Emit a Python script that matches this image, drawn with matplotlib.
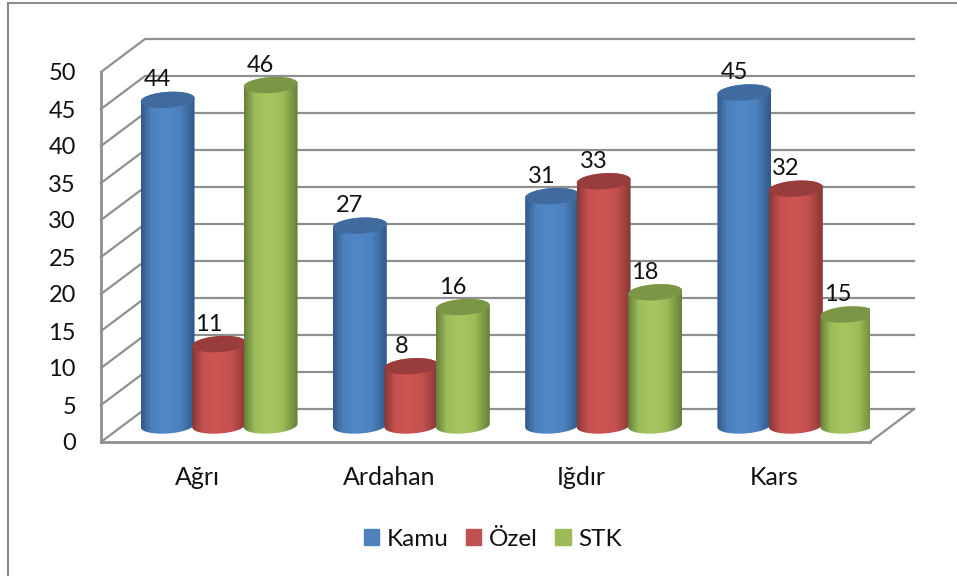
import numpy as np
import matplotlib
matplotlib.use('Agg')
import matplotlib.pyplot as plt
from matplotlib.lines import Line2D
from matplotlib.patches import Patch, Polygon

categories = ['Ağrı', 'Ardahan', 'Iğdır', 'Kars']
kamu = [44, 27, 31, 45]
ozel = [11, 8, 33, 32]
stk = [46, 16, 18, 15]
yticks = [0, 5, 10, 15, 20, 25, 30, 35, 40, 45, 50]

W, H = 957, 576
LEFT, RIGHT, BOTTOM, TOP = 101, 870, 442, 72
GRID = '#8f8f8f'
TEXT = '#111111'

plt.rcParams['font.family'] = ['Lato', 'DejaVu Sans']
plt.rcParams['font.size'] = 17

fig = plt.figure(figsize=(W / 100, H / 100), dpi=100)
ax = fig.add_axes([LEFT / W, 1 - BOTTOM / H, (RIGHT - LEFT) / W, (BOTTOM - TOP) / H])
ax.patch.set_alpha(0)
ax.set_xlim(0, 4)
ax.set_ylim(0, 50)

# pixel -> data
sx = 4 / (RIGHT - LEFT)
sy = 50 / (BOTTOM - TOP)
dx3d, dy3d = 44 * sx, 33 * sy

# wall and floor lines
for v in yticks:
    ax.plot([0, dx3d, 4 + dx3d], [v, v + dy3d, v + dy3d], color=GRID, lw=1.6,
            clip_on=False, zorder=1, solid_joinstyle='miter')
ax.plot([4, 4 + dx3d], [0, dy3d], color=GRID, lw=1.6, clip_on=False, zorder=1)


def ellipse_arc(cx, cy, a, b, t0, t1, tilt=np.radians(4)):
    t = np.linspace(t0, t1, 60)
    px = a * np.cos(t) * np.cos(tilt) - b * np.sin(t) * np.sin(tilt)
    py = a * np.cos(t) * np.sin(tilt) + b * np.sin(t) * np.cos(tilt)
    return np.column_stack([cx + px * sx, cy + py * sy])


def cylinder(xc, value, dark, mid, top, z):
    a, b = 27, 8
    xc = xc + dx3d / 2
    base = dy3d / 2
    body = np.vstack([ellipse_arc(xc, base, a, b, np.pi, 2 * np.pi),
                      ellipse_arc(xc, base + value, a, b, 0, np.pi)])
    clip = Polygon(body, transform=ax.transData, fill=False, edgecolor='none')
    ax.add_patch(clip)
    stops = [0, 0.2, 0.45, 0.72, 1]
    cols = np.array([dark, mid * 0.85 + dark * 0.15, mid, mid * 0.85 + dark * 0.15, dark])
    u = np.linspace(0, 1, 108)
    grad = np.stack([np.interp(u, stops, cols[:, i]) for i in range(3)], axis=1)[None, :, :]
    im = ax.imshow(grad, extent=[xc - a * sx, xc + a * sx, base - 2, base + value + 2],
                   aspect='auto', zorder=z, interpolation='bilinear')
    im.set_clip_path(clip)
    ax.add_patch(Polygon(ellipse_arc(xc, base + value, a, b, 0, 2 * np.pi),
                         facecolor=top, edgecolor='none', zorder=z + 0.1))
    ax.annotate(str(value), (xc, base + value), xytext=(-10, 20), textcoords='offset pixels',
                ha='center', va='center', color=TEXT, fontsize=17, zorder=20)


rgb = lambda s: np.array(matplotlib.colors.to_rgb(s))
series = [
    (kamu, -0.268, '#2f5a88', '#5288c8', '#3f6b9f'),
    (ozel, 0, '#873735', '#cf5552', '#983d3b'),
    (stk, 0.268, '#64803a', '#a6c75f', '#7c9647'),
]
for j, (vals, off, dark, mid, top) in enumerate(series):
    for i, v in enumerate(vals):
        cylinder(i + 0.5 + off, v, rgb(dark), rgb(mid), top, 3 + j)

ax.set_xlim(0, 4)
ax.set_ylim(0, 50)
ax.set_xticks([i + 0.5 for i in range(4)], categories, fontsize=18)
ax.set_yticks(yticks)
ax.tick_params(axis='x', length=0, pad=17, labelcolor=TEXT)
ax.tick_params(axis='y', length=0, pad=18, labelcolor=TEXT)
for s in ['top', 'right']:
    ax.spines[s].set_visible(False)
for s in ['left', 'bottom']:
    ax.spines[s].set_color(GRID)
    ax.spines[s].set_linewidth(2)

handles = [Patch(color='#4f81bd', label='Kamu'), Patch(color='#c0504d', label='Özel'),
           Patch(color='#9bbb59', label='STK')]
fig.legend(handles=handles, ncol=3, frameon=False, loc='center',
           bbox_to_anchor=(493 / W, 1 - 539 / H), handlelength=0.62, handleheight=0.62,
           handletextpad=0.32, columnspacing=0.72, fontsize=17.5, labelcolor=TEXT)

# chart frame: only the top and left edges fall inside the picture
fig.add_artist(Line2D([8 / W, 8 / W, 1], [0, 1 - 2.5 / H, 1 - 2.5 / H], color='#8c8c8c',
                      lw=1.5, transform=fig.transFigure, solid_joinstyle='miter'))

fig.savefig('out.png', dpi=100)
